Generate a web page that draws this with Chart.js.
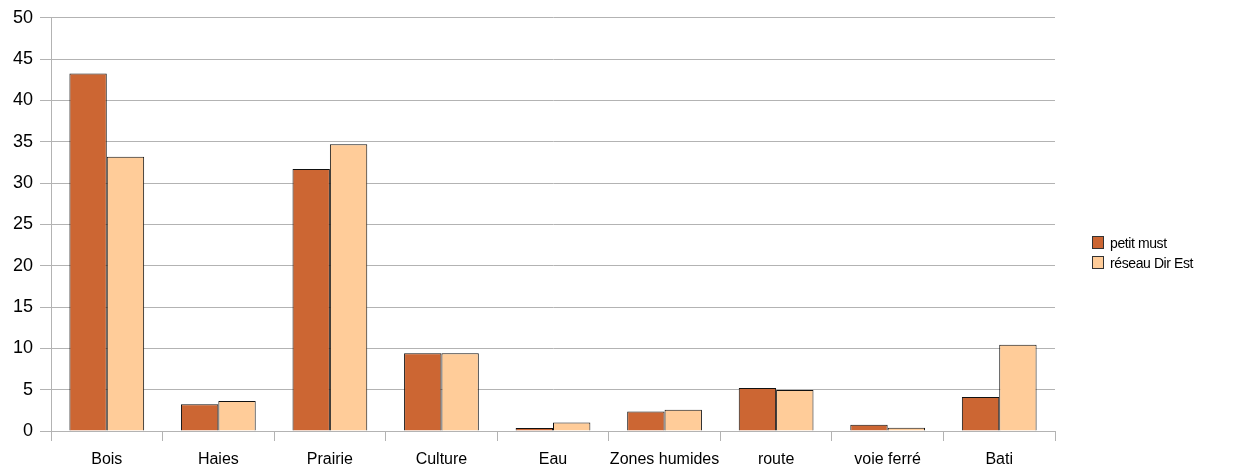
<!DOCTYPE html>
<html>
<head>
<meta charset="utf-8">
<script src="https://cdn.jsdelivr.net/npm/chart.js@4"></script>
<style>
  html,body{margin:0;padding:0;background:#fff;}
  #wrap{position:relative;width:1254px;height:473px;}
  #legend{position:absolute;left:1092px;top:233px;font:14px "Liberation Sans",Arial,sans-serif;color:#000;letter-spacing:-0.4px;}
  #legend div{height:20px;line-height:20px;white-space:nowrap;}
  #legend span{display:inline-block;width:10px;height:11px;border:1px solid #333;margin-right:6px;vertical-align:-1px;}
</style>
</head>
<body>
<div id="wrap">
  <canvas id="c" width="1254" height="473"></canvas>
  <div id="legend"></div>
</div>
<script>
/* ---------- data ---------- */
const categories = ['Bois','Haies','Prairie','Culture','Eau','Zones humides','route','voie ferré','Bati'];
const petitMust  = [43.25, 3.24, 31.7, 9.4, 0.36, 2.35, 5.2, 0.76, 4.12];
const reseauEst  = [33.2, 3.64, 34.7, 9.4, 1.04, 2.56, 4.96, 0.4, 10.43];
const seriesNames = ['petit must','réseau Dir Est'];
const colors      = ['#cc6633','#ffcc99'];

const grid = '#b3b3b3';
const font = {family:'"Liberation Sans", Arial, sans-serif'};

const chart = new Chart(document.getElementById('c'),{
  type:'bar',
  data:{
    labels:categories,
    datasets:[
      {label:seriesNames[0],data:petitMust,backgroundColor:colors[0],borderColor:'#111',borderWidth:1},
      {label:seriesNames[1],data:reseauEst,backgroundColor:colors[1],borderColor:'#111',borderWidth:1}
    ]
  },
  options:{
    responsive:false,animation:false,
    layout:{padding:{top:14,right:199,left:0,bottom:0}},
    categoryPercentage:0.67,barPercentage:1.0,
    plugins:{legend:{display:false},tooltip:{enabled:false}},
    scales:{
      y:{min:0,max:50,
         ticks:{stepSize:5,color:'#000',padding:7,font:{...font,size:18}},
         grid:{color:grid,tickLength:11,lineWidth:1},
         border:{color:grid},
         afterFit:s=>{s.width=51;}},
      x:{ticks:{color:'#000',padding:9,maxRotation:0,minRotation:0,autoSkip:false,font:{...font,size:16}},
         grid:{color:grid,drawOnChartArea:false,tickLength:10,offset:true},
         border:{color:grid},
         afterFit:s=>{s.height=42;}}
    }
  }
});

/* legend */
document.getElementById('legend').innerHTML = seriesNames.map((n,i)=>
  `<div><span style="background:${colors[i]}"></span>${n}</div>`).join('');
</script>
</body>
</html>
